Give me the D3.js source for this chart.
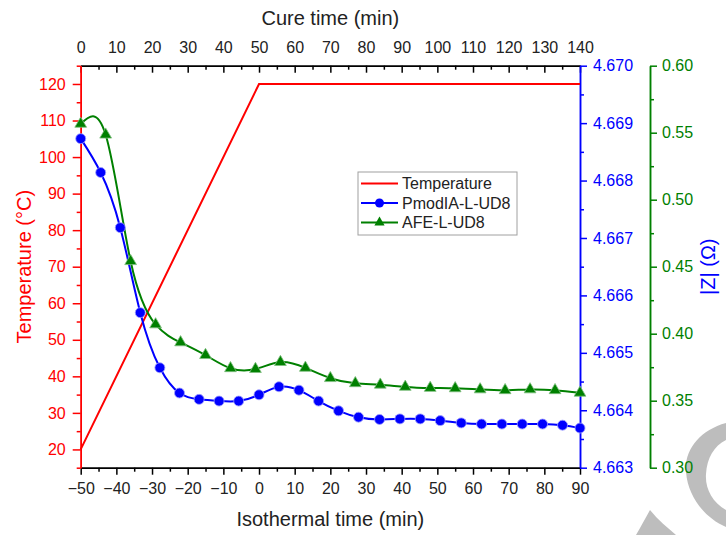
<!DOCTYPE html>
<html>
<head>
<meta charset="utf-8">
<script src="https://cdn.jsdelivr.net/npm/d3@7"></script>
<style>
    body { margin: 0; background: #fff; }
    svg { font-family: "Liberation Sans", Arial, sans-serif; }
</style>
</head>
<body>
<div id="wrapper"></div>
<script>
// temperature profile (left axis)
const tempTime = [-50, 0, 90];
const tempValues = [20, 120, 120];

// PmodIA-L-UD8 (|Z|, blue axis)
const pmodTime = [-50, -44.4, -38.9, -33.3, -27.8, -22.3, -16.8, -11.2, -5.7, 0,
    5.6, 11.2, 16.7, 22.3, 27.9, 33.8, 39.5, 45.2, 50.8, 56.7, 62.4, 68.1, 73.8, 79.5, 85.1, 90];
const pmodValues = [4.66873, 4.66814, 4.66718, 4.66570, 4.66474, 4.66430, 4.66419, 4.66416, 4.66416, 4.66427,
    4.66441, 4.66435, 4.66416, 4.66399, 4.66388, 4.66384, 4.66385, 4.66385, 4.66382, 4.66378,
    4.66376, 4.66376, 4.66376, 4.66376, 4.66374, 4.66369];

// AFE-L-UD8 (|Z|, green axis)
const afeTime = [-50, -43, -36, -29, -22, -15, -8, -1, 6, 13, 20, 27, 34, 41, 48, 55, 62, 69, 76, 83, 90];
const afeValues = [0.5566, 0.5485, 0.4541, 0.4069, 0.3935, 0.3840, 0.3742, 0.3736, 0.3788, 0.3745,
    0.3668, 0.3630, 0.3619, 0.3603, 0.3595, 0.3592, 0.3584, 0.3578, 0.3584, 0.3578, 0.3559];

// tick labels
const bottomTicks = [-50, -40, -30, -20, -10, 0, 10, 20, 30, 40, 50, 60, 70, 80, 90];
const bottomMinor = [-45, -35, -25, -15, -5, 5, 15, 25, 35, 45, 55, 65, 75, 85];
const topTicks = [0, 10, 20, 30, 40, 50, 60, 70, 80, 90, 100, 110, 120, 130, 140];
const topMinor = [5, 15, 25, 35, 45, 55, 65, 75, 85, 95, 105, 115, 125, 135];
const tempTicks = [20, 30, 40, 50, 60, 70, 80, 90, 100, 110, 120];
const tempMinor = [15, 25, 35, 45, 55, 65, 75, 85, 95, 105, 115, 125];
const blueTicks = [4.663, 4.664, 4.665, 4.666, 4.667, 4.668, 4.669, 4.670];
const blueMinor = [4.6635, 4.6645, 4.6655, 4.6665, 4.6675, 4.6685, 4.6695];
const greenTicks = [0.30, 0.35, 0.40, 0.45, 0.50, 0.55, 0.60];
const greenMinor = [0.325, 0.375, 0.425, 0.475, 0.525, 0.575];

const legendNames = ["Temperature", "PmodIA-L-UD8", "AFE-L-UD8"];

const RED = "#ff0000", BLUE = "#0000ff", GREEN = "#008000";

const dimensions = {
    width: 726,
    height: 535,
    left: 80.7,
    right: 580,
    top: 65.7,
    bottom: 467.7,
    greenAxis: 650,
};

const svg = d3.select("#wrapper")
    .append("svg")
    .attr("width", dimensions.width)
    .attr("height", dimensions.height);

const xScale = d3.scaleLinear().domain([-50, 90]).range([dimensions.left, dimensions.right]);
const xTopScale = d3.scaleLinear().domain([0, 140]).range([dimensions.left, dimensions.right]);
const yTemp = d3.scaleLinear().domain([15, 125]).range([dimensions.bottom, dimensions.top]);
const yBlue = d3.scaleLinear().domain([4.663, 4.670]).range([dimensions.bottom, dimensions.top]);
const yGreen = d3.scaleLinear().domain([0.30, 0.60]).range([dimensions.bottom, dimensions.top]);

// watermark in the corner
const wm = svg.append("g").attr("fill", "#bdbdbd");
wm.append("path")
    .attr("d", "M726,423 C700,430 684,450 686,472 C688,497 705,518 726,527 L726,510 C712,502 705,488 706,474 C707,458 714,446 726,440 Z");
wm.append("path")
    .attr("d", "M650,510 C658,520 668,528 676,535 L636,535 C640,528 645,519 650,510 Z");

function styleAxis(g, color) {
    g.select(".domain").attr("stroke", color).attr("stroke-width", 1.5);
    g.selectAll(".tick line").attr("stroke", color).attr("stroke-width", 1.5);
    g.selectAll(".tick text").attr("fill", color).attr("font-size", 16);
    g.attr("font-family", null);
}

// bottom axis
svg.append("g")
    .attr("transform", `translate(0,${dimensions.bottom})`)
    .call(d3.axisBottom(xScale).tickValues(bottomMinor).tickSize(4).tickSizeOuter(0).tickFormat(""))
    .call(g => styleAxis(g, "#000"));
svg.append("g")
    .attr("transform", `translate(0,${dimensions.bottom})`)
    .call(d3.axisBottom(xScale).tickValues(bottomTicks).tickSize(7).tickPadding(8).tickSizeOuter(0))
    .call(g => styleAxis(g, "#000"))
    .call(g => g.selectAll(".tick text").attr("fill", "#222"));

// top axis (cure time), ticks pointing in
svg.append("g")
    .attr("transform", `translate(0,${dimensions.top})`)
    .call(d3.axisTop(xTopScale).tickValues(topMinor).tickSize(-4).tickSizeOuter(0).tickFormat(""))
    .call(g => styleAxis(g, "#000"));
svg.append("g")
    .attr("transform", `translate(0,${dimensions.top})`)
    .call(d3.axisTop(xTopScale).tickValues(topTicks).tickSize(-7).tickPadding(12.5).tickSizeOuter(0))
    .call(g => styleAxis(g, "#000"))
    .call(g => g.selectAll(".tick text").attr("fill", "#222"));

// left temperature axis
svg.append("g")
    .attr("transform", `translate(${dimensions.left},0)`)
    .call(d3.axisLeft(yTemp).tickValues(tempMinor).tickSize(4).tickSizeOuter(0).tickFormat(""))
    .call(g => styleAxis(g, RED));
svg.append("g")
    .attr("transform", `translate(${dimensions.left},0)`)
    .call(d3.axisLeft(yTemp).tickValues(tempTicks).tickSize(8).tickPadding(7).tickSizeOuter(0))
    .call(g => styleAxis(g, RED));

// blue |Z| axis
svg.append("g")
    .attr("transform", `translate(${dimensions.right},0)`)
    .call(d3.axisRight(yBlue).tickValues(blueMinor).tickSize(4).tickSizeOuter(0).tickFormat(""))
    .call(g => styleAxis(g, BLUE));
svg.append("g")
    .attr("transform", `translate(${dimensions.right},0)`)
    .call(d3.axisRight(yBlue).tickValues(blueTicks).tickSize(7).tickPadding(6).tickSizeOuter(0).tickFormat(d3.format(".3f")))
    .call(g => styleAxis(g, BLUE));

// green |Z| axis
svg.append("g")
    .attr("transform", `translate(${dimensions.greenAxis},0)`)
    .call(d3.axisRight(yGreen).tickValues(greenMinor).tickSize(4).tickSizeOuter(0).tickFormat(""))
    .call(g => styleAxis(g, GREEN));
svg.append("g")
    .attr("transform", `translate(${dimensions.greenAxis},0)`)
    .call(d3.axisRight(yGreen).tickValues(greenTicks).tickSize(7).tickPadding(5).tickSizeOuter(0).tickFormat(d3.format(".2f")))
    .call(g => styleAxis(g, GREEN));

// axis titles
svg.append("text")
    .attr("x", (dimensions.left + dimensions.right) / 2)
    .attr("y", 25)
    .attr("text-anchor", "middle")
    .attr("font-size", 20)
    .attr("fill", "#222")
    .text("Cure time (min)");

svg.append("text")
    .attr("x", (dimensions.left + dimensions.right) / 2)
    .attr("y", 526)
    .attr("text-anchor", "middle")
    .attr("font-size", 20)
    .attr("fill", "#222")
    .text("Isothermal time (min)");

svg.append("text")
    .attr("transform", `translate(31,${(dimensions.top + dimensions.bottom) / 2}) rotate(-90)`)
    .attr("text-anchor", "middle")
    .attr("font-size", 20)
    .attr("fill", RED)
    .text("Temperature (°C)");

svg.append("text")
    .attr("transform", `translate(715,${(dimensions.top + dimensions.bottom) / 2}) rotate(-90)`)
    .attr("text-anchor", "middle")
    .attr("font-size", 20)
    .attr("fill", BLUE)
    .text("|Z| (Ω)");

// series
const tempData = tempTime.map((t, i) => ({ t, v: tempValues[i] }));
const pmodData = pmodTime.map((t, i) => ({ t, v: pmodValues[i] }));
const afeData = afeTime.map((t, i) => ({ t, v: afeValues[i] }));

svg.append("path")
    .datum(tempData)
    .attr("fill", "none")
    .attr("stroke", RED)
    .attr("stroke-width", 2)
    .attr("d", d3.line().x(d => xScale(d.t)).y(d => yTemp(d.v)));

svg.append("path")
    .datum(afeData)
    .attr("fill", "none")
    .attr("stroke", GREEN)
    .attr("stroke-width", 2)
    .attr("d", d3.line().curve(d3.curveNatural).x(d => xScale(d.t)).y(d => yGreen(d.v)));

svg.append("path")
    .datum(pmodData)
    .attr("fill", "none")
    .attr("stroke", BLUE)
    .attr("stroke-width", 2)
    .attr("d", d3.line().curve(d3.curveNatural).x(d => xScale(d.t)).y(d => yBlue(d.v)));

const triangle = d3.symbol().type(d3.symbolTriangle).size(60);

svg.selectAll(".afe-dots")
    .data(afeData)
    .enter()
    .append("path")
    .attr("class", "afe-dots")
    .attr("d", triangle)
    .attr("transform", d => `translate(${xScale(d.t)},${yGreen(d.v)})`)
    .attr("fill", GREEN)
    .attr("stroke", "#7fbf7f")
    .attr("stroke-width", 0.8);

svg.selectAll(".pmod-dots")
    .data(pmodData)
    .enter()
    .append("circle")
    .attr("class", "pmod-dots")
    .attr("cx", d => xScale(d.t))
    .attr("cy", d => yBlue(d.v))
    .attr("r", 5)
    .attr("fill", BLUE)
    .attr("stroke", "#9f9fff")
    .attr("stroke-width", 0.8);

// legend
const legend = svg.append("g").attr("transform", "translate(358,172)");
legend.append("rect")
    .attr("width", 159)
    .attr("height", 63)
    .attr("fill", "#fff")
    .attr("stroke", "#a0a0a0")
    .attr("stroke-width", 1);

const legendColors = [RED, BLUE, GREEN];
legendNames.forEach((name, i) => {
    const y = 11.5 + i * 19.5;
    const row = legend.append("g").attr("transform", `translate(0,${y})`);
    row.append("line")
        .attr("x1", 3).attr("x2", 40)
        .attr("stroke", legendColors[i])
        .attr("stroke-width", 2);
    if (i === 1) {
        row.append("circle").attr("cx", 21.5).attr("r", 4.5).attr("fill", BLUE);
    }
    if (i === 2) {
        row.append("path").attr("d", d3.symbol().type(d3.symbolTriangle).size(45))
            .attr("transform", "translate(21.5,0)").attr("fill", GREEN);
    }
    row.append("text")
        .attr("x", 44)
        .attr("dy", "0.35em")
        .attr("font-size", 16)
        .attr("fill", "#222")
        .text(name);
});
</script>
</body>
</html>
